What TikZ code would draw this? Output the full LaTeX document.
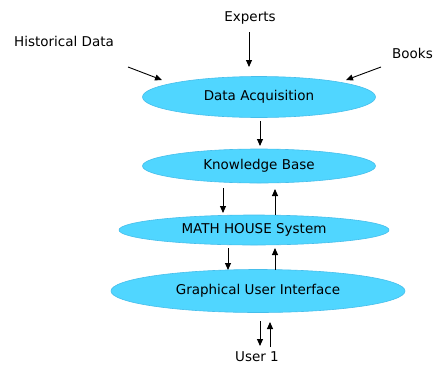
\documentclass[tikz,border=0pt]{standalone}
\usepackage{fontspec}
\setmainfont{DejaVu Sans}
\usetikzlibrary{arrows.meta,shapes.geometric}
\definecolor{bub}{RGB}{80,214,255}
\definecolor{bubline}{RGB}{70,190,235}
\begin{document}
\begin{tikzpicture}[x=1pt,y=-1pt,
  bubble/.style={ellipse,draw=bubline,line width=0.6pt,fill=bub,inner sep=0pt,font=\fontsize{13.5}{16}\selectfont},
  lbl/.style={inner sep=0pt,font=\fontsize{13.5}{16}\selectfont},
  arr/.style={line width=0.9pt,-{Triangle[length=7pt,width=6pt]}}]
\useasboundingbox (0,0) rectangle (433,367);
\node[bubble,minimum width=233pt,minimum height=41pt] (da) at (259,97) {Data Acquisition};
\node[bubble,minimum width=233pt,minimum height=34pt] (kb) at (259,166) {Knowledge Base};
\node[bubble,minimum width=270pt,minimum height=30pt] (mh) at (254,230) {MATH HOUSE System};
\node[bubble,minimum width=294pt,minimum height=43pt] (gui) at (258,291) {Graphical User Interface};
\node[lbl] (exp) at (250,18) {Experts};
\node[lbl] (hist) at (64,41) {Historical Data};
\node[lbl,anchor=west] (books) at (392,53) {Books};
\node[lbl] (user) at (257,357) {User 1};
\coordinate (e1) at (249,32); \coordinate (e2) at (249,67);
\coordinate (h1) at (128,67); \coordinate (h2) at (162,80);
\coordinate (b1) at (381,67); \coordinate (b2) at (346,80);
\coordinate (d1) at (260,121); \coordinate (d2) at (260,146);
\coordinate (k1) at (223,188); \coordinate (k2) at (223,213);
\coordinate (m1) at (275,215); \coordinate (m2) at (275,189);
\coordinate (m3) at (228,248); \coordinate (m4) at (228,270);
\coordinate (g1) at (275,270); \coordinate (g2) at (275,248);
\coordinate (u1) at (260,321); \coordinate (u2) at (260,346);
\coordinate (u3) at (270,347); \coordinate (u4) at (270,322);
\draw[arr] (e1) -- (e2);
\draw[arr] (h1) -- (h2);
\draw[arr] (b1) -- (b2);
\draw[arr] (d1) -- (d2);
\draw[arr] (k1) -- (k2);
\draw[arr] (m1) -- (m2);
\draw[arr] (m3) -- (m4);
\draw[arr] (g1) -- (g2);
\draw[arr] (u1) -- (u2);
\draw[arr] (u3) -- (u4);
\end{tikzpicture}
\end{document}
